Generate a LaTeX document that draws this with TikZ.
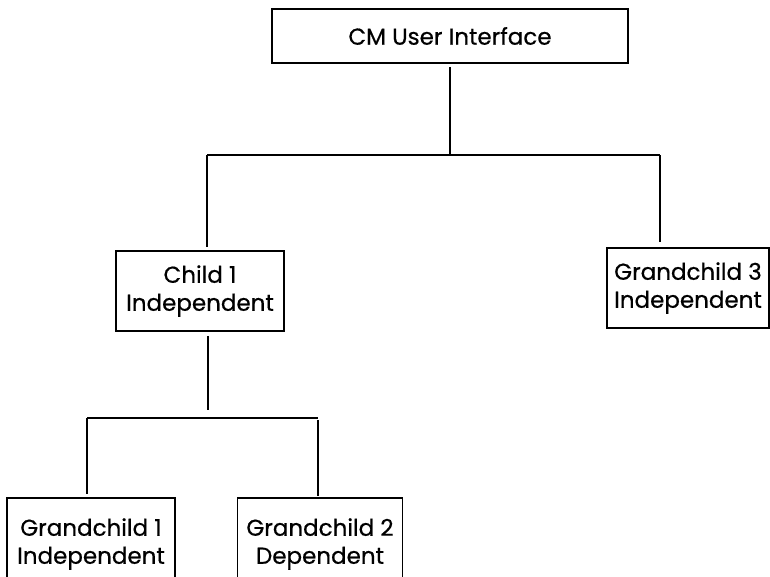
\documentclass[tikz,border=0pt]{standalone}
\usepackage{fontspec}
\setmainfont{Poppins}[FakeBold=0.6]
\begin{document}
\begin{tikzpicture}[x=1pt,y=-1pt,
  box/.style={draw,line width=1.7pt,inner sep=0pt,align=center,font=\fontsize{23}{28}\selectfont},
  link/.style={line width=1.7pt}]
\useasboundingbox (0,0) rectangle (770,576);
\begin{scope}
\clip (0,0) rectangle (770,576);
\node[box,minimum width=356,minimum height=54] (top) at (450,36) {CM User Interface};
\node[box,minimum width=168,minimum height=80] (c1) at (200,291) {Child 1\\Independent};
\node[box,minimum width=162,minimum height=80] (gc3) at (688,288) {Grandchild 3\\Independent};
\node[box,minimum width=168,minimum height=92] (gc1) at (91,544) {Grandchild 1\\Independent};
\node[box,minimum width=165,minimum height=92] (gc2) at (320,544) {Grandchild 2\\Dependent};
\coordinate (j1) at (450,155);
\coordinate (l1) at (207,155);
\coordinate (r1) at (660,155);
\coordinate (j2) at (208,418);
\coordinate (l2) at (87,418);
\coordinate (r2) at (318,418);
\draw[link,shorten <=3pt] (top.south) -- (j1);
\draw[link] (l1) -- (r1);
\draw[link,shorten >=3pt] (l1) -- (l1 |- c1.north);
\draw[link,shorten >=5pt] (r1) -- (r1 |- gc3.north);
\draw[link,shorten <=4pt,shorten >=8pt] (c1.south -| j2) -- (j2);
\draw[link] (l2) -- (r2);
\draw[link,shorten >=3pt] (l2) -- (l2 |- gc1.north);
\draw[link,shorten <=2pt,shorten >=1pt] (r2) -- (r2 |- gc2.north);
\end{scope}
\end{tikzpicture}
\end{document}
